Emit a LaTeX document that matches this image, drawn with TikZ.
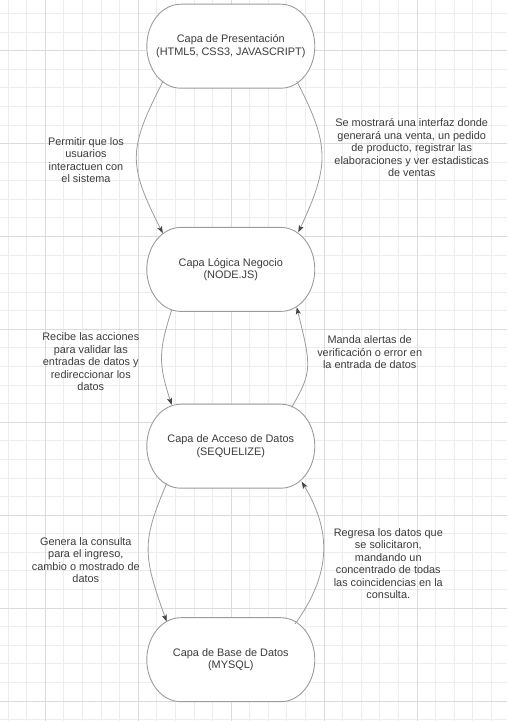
\documentclass[tikz,border=0pt]{standalone}
\usepackage{fontspec}
\setmainfont{Liberation Sans}
\usetikzlibrary{arrows.meta}
\pgfdeclarelayer{gridlayer}
\pgfdeclarelayer{shapelayer}
\pgfsetlayers{gridlayer,shapelayer,main}
\definecolor{gridminor}{HTML}{EDEDED}
\definecolor{gridmajor}{HTML}{DBDBDB}
\definecolor{edgegray}{HTML}{9C9C9C}
\definecolor{tipgray}{HTML}{474747}
\definecolor{txtgray}{HTML}{3C3C3C}
\begin{document}
\begin{tikzpicture}[x=1pt,y=1pt,
  txt/.style={text=txtgray,font=\fontsize{10.9}{12.5}\selectfont},
  layer/.style={txt,minimum width=168pt,minimum height=84pt,inner sep=0pt,align=center},
  outline/.style={draw=edgegray,line width=0.9pt,fill=white},
  conn/.style={draw=edgegray,line width=0.8pt,-{Stealth[length=7pt,width=5pt,inset=1.5pt,color=tipgray]}},
  lbl/.style={txt,align=center,inner sep=0pt},
  gminor/.style={draw=gridminor,line width=0.9pt},
  gmajor/.style={draw=gridmajor,line width=0.9pt}]
\useasboundingbox (0,0) rectangle (507,721);
\begin{pgfonlayer}{gridlayer}
  \fill[white] (0,0) rectangle (507,721);
  \foreach \i in {0,...,26} \draw[gminor] ({8.2+18.58*\i},0) -- ({8.2+18.58*\i},721);
  \foreach \i in {0,...,38} \draw[gminor] (0,{721-13.5-18.58*\i}) -- (507,{721-13.5-18.58*\i});
  \foreach \i in {0,...,4} \draw[gmajor] ({45.4+92.9*\i},0) -- ({45.4+92.9*\i},721);
  \foreach \i in {0,...,7} \draw[gmajor] (0,{721-50.7-92.9*\i}) -- (507,{721-50.7-92.9*\i});
\end{pgfonlayer}

\node[layer] (n1) at (230.8,721-46.2) {Capa de Presentación\\(HTML5, CSS3, JAVASCRIPT)};
\node[layer] (n2) at (230.8,721-269.4) {Capa Lógica Negocio\\(NODE.JS)};
\node[layer] (n3) at (230.8,721-446.2) {Capa de Acceso de Datos\\(SEQUELIZE)};
\node[layer] (n4) at (230.8,721-659.7) {Capa de Base de Datos\\(MYSQL)};

\begin{pgfonlayer}{shapelayer}
  \foreach \n in {n1,n2,n3,n4}{
    \draw[outline] ([xshift=-50pt,yshift=42pt]\n.center) -- ([xshift=50pt,yshift=42pt]\n.center)
      arc[start angle=90,end angle=-90,x radius=34pt,y radius=42pt]
      -- ([xshift=-50pt,yshift=-42pt]\n.center)
      arc[start angle=270,end angle=90,x radius=34pt,y radius=42pt] -- cycle;
  }
\end{pgfonlayer}

\draw[conn] ([xshift=-67.5pt,yshift=-34.5pt]n1.center) .. controls (127.8,721-150) and (127.8,721-164) .. ([xshift=-68pt,yshift=36.1pt]n2.center);
\draw[conn] ([xshift=65.9pt,yshift=-34.8pt]n1.center) .. controls (329.8,721-145) and (329.8,721-165) .. ([xshift=67.5pt,yshift=37.1pt]n2.center);
\draw[conn] ([xshift=-59.1pt,yshift=-40.6pt]n2.center) .. controls (158.4,721-351) and (158.4,721-364) .. ([xshift=-59.1pt,yshift=41.2pt]n3.center);
\draw[conn] ([xshift=60.9pt,yshift=38.9pt]n3.center) .. controls (311.9,721-372) and (311.9,721-368) .. ([xshift=65.9pt,yshift=-37.9pt]n2.center);
\draw[conn] ([xshift=-64.1pt,yshift=-37.1pt]n3.center) .. controls (142.2,721-541) and (142.2,721-554) .. ([xshift=-64.1pt,yshift=38pt]n4.center);
\draw[conn] ([xshift=64.2pt,yshift=35.7pt]n4.center) .. controls (331.6,721-573.5) and (331.6,721-531.4) .. ([xshift=70.9pt,yshift=-35.5pt]n3.center);

\node[lbl] (l1) at (86,721-160) {Permitir que los\\usuarios\\interactuen con\\el sistema};
\node[lbl] (l2) at (411.7,721-147.7) {Se mostrará una interfaz donde\\generará una venta, un pedido\\de producto, registrar las\\elaboraciones y ver estadisticas\\de ventas};
\node[lbl] (l3) at (90.8,721-361.9) {Recibe las acciones\\para validar las\\entradas de datos y\\redireccionar los\\datos};
\node[lbl] (l4) at (369.7,721-352.3) {Manda alertas de\\verificación o error en\\la entrada de datos};
\node[lbl] (l5) at (85.8,721-560.3) {Genera la consulta\\para el ingreso,\\cambio o mostrado de\\datos};
\node[lbl] (l6) at (388.3,721-563.6) {Regresa los datos que\\se solicitaron,\\mandando un\\concentrado de todas\\las coincidencias en la\\consulta.};
\end{tikzpicture}
\end{document}
